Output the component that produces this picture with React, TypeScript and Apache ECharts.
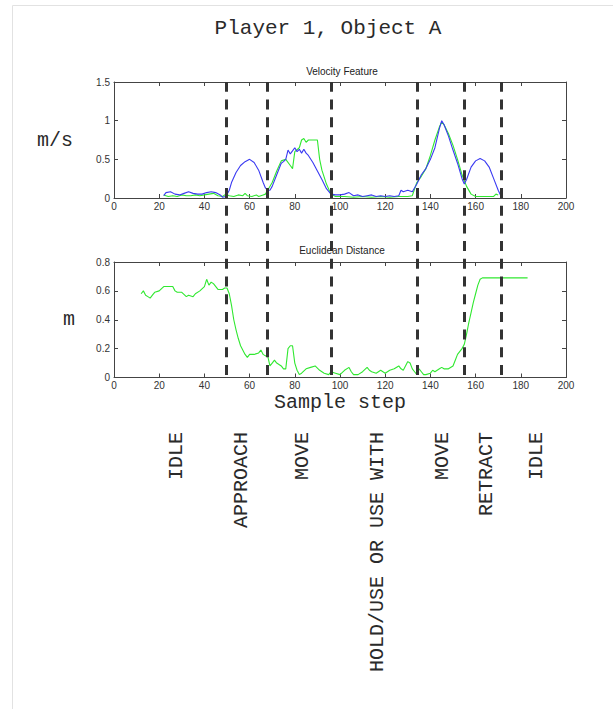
import React, { useEffect, useRef } from "react";
import * as echarts from "echarts";

// ---------- data ----------
const xTicksMax = 200;
const velocityBlue: [number, number][] = [
  [22, 0.03], [23, 0.07], [25, 0.08], [27, 0.05], [29, 0.04], [31, 0.06], [33, 0.08], [35, 0.06],
  [37, 0.05], [39, 0.05], [41, 0.07], [43, 0.08], [45, 0.07], [47, 0.04], [48, 0.01], [49.5, 0.02],
  [51, 0.1], [52, 0.2], [54, 0.33], [56, 0.42], [58, 0.47], [60, 0.5], [62, 0.46], [64, 0.36],
  [66, 0.2], [67, 0.13], [68, 0.1], [69, 0.1], [70, 0.15], [72, 0.3], [74, 0.45], [75, 0.47],
  [76, 0.5], [77, 0.62], [78, 0.57], [79, 0.61], [80, 0.65], [81, 0.6], [82, 0.63], [83, 0.58],
  [84, 0.63], [85, 0.58], [86, 0.55], [88, 0.46], [90, 0.35], [92, 0.24], [94, 0.12], [96, 0.05],
  [98, 0.04], [100, 0.04], [102, 0.05], [104, 0.07], [106, 0.03], [108, 0.04], [110, 0.02],
  [112, 0.03], [114, 0.04], [116, 0.02], [118, 0.03], [120, 0.02], [122, 0.03], [124, 0.02],
  [126, 0.03], [127, 0.1], [128, 0.08], [130, 0.1], [132, 0.08], [134, 0.18], [136, 0.3],
  [138, 0.38], [140, 0.5], [142, 0.65], [144, 0.9], [145, 1.0], [146, 0.95], [148, 0.8],
  [150, 0.62], [152, 0.45], [154, 0.25], [155, 0.18], [156, 0.24], [158, 0.4], [160, 0.48],
  [162, 0.51], [164, 0.48], [166, 0.4], [168, 0.25], [170, 0.1], [171, 0.04], [172, 0.02],
];
const velocityGreen: [number, number][] = [
  [22, 0.04], [24, 0.02], [26, 0.03], [28, 0.02], [30, 0.04], [32, 0.03], [34, 0.03], [36, 0.04],
  [38, 0.03], [40, 0.04], [42, 0.05], [44, 0.06], [46, 0.03], [48, 0.02], [49.5, 0.05], [51, 0.03],
  [53, 0.02], [55, 0.04], [57, 0.03], [58, 0.06], [59, 0.03], [61, 0.02], [63, 0.04], [64, 0.02],
  [66, 0.04], [67, 0.05], [68, 0.1], [70, 0.2], [72, 0.35], [74, 0.48], [76, 0.5], [78, 0.42],
  [79, 0.38], [80, 0.6], [82, 0.65], [83, 0.75], [84, 0.77], [85, 0.72], [86, 0.75], [88, 0.75],
  [90, 0.75], [91, 0.5], [92, 0.36], [94, 0.18], [96, 0.05], [98, 0.02], [102, 0.02], [106, 0.01],
  [110, 0.02], [114, 0.01], [118, 0.02], [122, 0.01], [126, 0.02], [130, 0.02], [132, 0.03],
  [134, 0.2], [136, 0.28], [138, 0.38], [140, 0.55], [142, 0.75], [144, 0.92], [145, 0.98],
  [146, 0.95], [148, 0.83], [150, 0.68], [152, 0.5], [154, 0.3], [156, 0.15], [158, 0.05],
  [160, 0.02], [164, 0.02], [168, 0.02], [169, 0.05], [170, 0.04],
];
const euclideanDistance: [number, number][] = [
  [12, 0.58], [13, 0.6], [14, 0.57], [15, 0.56], [16, 0.55], [17, 0.57], [18, 0.59], [20, 0.6],
  [22, 0.63], [24, 0.63], [26, 0.63], [27, 0.6], [28, 0.59], [30, 0.59], [32, 0.56], [33, 0.57],
  [35, 0.56], [36, 0.58], [38, 0.6], [40, 0.63], [41, 0.68], [42, 0.64], [43, 0.66], [44, 0.65],
  [46, 0.61], [48, 0.61], [49, 0.62], [50, 0.62], [51, 0.58], [52, 0.5], [53, 0.4], [54, 0.33],
  [55, 0.27], [56, 0.22], [58, 0.16], [59, 0.14], [60, 0.16], [62, 0.16], [64, 0.17], [65, 0.19],
  [66, 0.16], [67, 0.15], [68, 0.15], [69, 0.08], [70, 0.1], [71, 0.12], [72, 0.1], [74, 0.08],
  [75, 0.06], [76, 0.06], [77, 0.2], [78, 0.22], [79, 0.22], [80, 0.1], [81, 0.05], [82, 0.02],
  [83, 0.03], [85, 0.06], [87, 0.07], [89, 0.08], [91, 0.05], [93, 0.03], [95, 0.02], [96, 0.04],
  [98, 0.03], [100, 0.02], [102, 0.05], [104, 0.07], [105, 0.04], [106, 0.02], [108, 0.02],
  [110, 0.04], [112, 0.07], [113, 0.05], [114, 0.04], [116, 0.03], [118, 0.05], [120, 0.03],
  [122, 0.05], [124, 0.06], [126, 0.08], [127, 0.06], [128, 0.05], [130, 0.11], [131, 0.1],
  [132, 0.06], [133, 0.04], [134, 0.02], [135, 0.06], [136, 0.04], [137, 0.02], [138, 0.02],
  [140, 0.03], [141, 0.05], [142, 0.04], [144, 0.06], [145, 0.07], [146, 0.06], [148, 0.06],
  [150, 0.08], [151, 0.12], [152, 0.16], [154, 0.2], [155, 0.23], [156, 0.3], [157, 0.38],
  [158, 0.45], [159, 0.52], [160, 0.58], [161, 0.64], [162, 0.68], [163, 0.69], [170, 0.69],
  [183, 0.69],
];
const phaseBoundaries = [49.5, 68, 96, 134, 155, 171.5];
const phaseLabels = ["IDLE", "APPROACH", "MOVE", "HOLD/USE OR USE WITH", "MOVE", "RETRACT", "IDLE"];

// ---------- layout ----------
const phaseLabelX = [176, 241, 302.5, 377.5, 442.5, 486, 536];
const mono = "'Liberation Mono', 'Courier New', monospace";
const sans = "'Liberation Sans', Arial, sans-serif";
const axisColor = "#444";
const textColor = "#2a2a2a";

function boxAxes(gridIndex: number, min: number, max: number, interval: number, kind: "x" | "y", extra: any = {}) {
  const common = {
    gridIndex,
    type: "value",
    min,
    max,
    interval,
    splitLine: { show: false },
    axisLine: { show: true, onZero: false, lineStyle: { color: axisColor, width: 1 } },
    axisTick: { show: true, inside: true, length: 4, lineStyle: { color: axisColor } },
  };
  const main = {
    ...common,
    position: kind === "x" ? "bottom" : "left",
    axisLabel: { show: true, color: "#333", fontSize: 10, fontFamily: sans, margin: kind === "x" ? 3 : 4 },
    ...extra,
  };
  const opp = {
    ...common,
    position: kind === "x" ? "top" : "right",
    axisLabel: { show: false },
  };
  return [main, opp];
}

export default function App() {
  const ref = useRef<HTMLDivElement>(null);
  useEffect(() => {
    if (!ref.current) return;
    const chart = echarts.init(ref.current, null, { renderer: "svg" });
    const gLeft = 114;
    const gWidth = 452;
    const xAxes = [
      ...boxAxes(0, 0, xTicksMax, 20, "x"),
      ...boxAxes(1, 0, xTicksMax, 20, "x", {
        name: "Sample step",
        nameLocation: "middle",
        nameGap: 15,
        nameTextStyle: { fontFamily: mono, fontSize: 20, color: textColor, verticalAlign: "top" },
      }),
      { gridIndex: 2, type: "value", min: 0, max: xTicksMax, show: false },
    ];
    const yAxes = [
      ...boxAxes(0, 0, 1.5, 0.5, "y", {
        name: "m/s",
        nameLocation: "middle",
        nameRotate: 0,
        nameGap: 41,
        nameTextStyle: { fontFamily: mono, fontSize: 20, color: textColor, align: "right", verticalAlign: "middle" },
      }),
      ...boxAxes(1, 0, 0.8, 0.2, "y", {
        name: "m",
        nameLocation: "middle",
        nameRotate: 0,
        nameGap: 39,
        nameTextStyle: { fontFamily: mono, fontSize: 20, color: textColor, align: "right", verticalAlign: "middle" },
      }),
      { gridIndex: 2, type: "value", min: 0, max: 1, show: false },
    ];

    const graphics: any[] = [
      { type: "line", shape: { x1: 12.5, y1: 5.5, x2: 613, y2: 5.5 }, style: { stroke: "#e2e2e2", lineWidth: 1 }, silent: true },
      { type: "line", shape: { x1: 12.5, y1: 5.5, x2: 12.5, y2: 709 }, style: { stroke: "#e2e2e2", lineWidth: 1 }, silent: true },
    ];
    phaseLabels.forEach((label, i) => {
      graphics.push({
        type: "text",
        x: phaseLabelX[i],
        y: 432,
        rotation: Math.PI / 2,
        style: {
          text: label,
          font: `20px ${mono}`,
          fill: textColor,
          textAlign: "right",
          textVerticalAlign: "middle",
        },
        silent: true,
      });
    });

    chart.setOption({
      animation: false,
      backgroundColor: "#fff",
      title: [
        { text: "Player 1, Object A", left: 323, top: 13, textAlign: "center", textStyle: { fontFamily: mono, fontSize: 21, fontWeight: "normal", color: textColor } },
        { text: "Velocity Feature", left: 337, top: 61, textAlign: "center", textStyle: { fontFamily: sans, fontSize: 10, fontWeight: "normal", color: "#222" } },
        { text: "Euclidean Distance", left: 337, top: 240, textAlign: "center", textStyle: { fontFamily: sans, fontSize: 10, fontWeight: "normal", color: "#222" } },
      ],
      grid: [
        { left: gLeft, width: gWidth, top: 82, height: 116, containLabel: false },
        { left: gLeft, width: gWidth, top: 262, height: 115.5, containLabel: false },
        { left: gLeft, width: gWidth, top: 82, height: 293, containLabel: false },
      ],
      xAxis: xAxes,
      yAxis: yAxes,
      graphic: graphics,
      series: [
        {
          name: "Velocity (blue)",
          type: "line",
          xAxisIndex: 0,
          yAxisIndex: 0,
          data: velocityBlue,
          showSymbol: false,
          lineStyle: { color: "#3a3af2", width: 1.1 },
          itemStyle: { color: "#3a3af2" },
          z: 3,
        },
        {
          name: "Velocity (green)",
          type: "line",
          xAxisIndex: 0,
          yAxisIndex: 0,
          data: velocityGreen,
          showSymbol: false,
          lineStyle: { color: "#30e830", width: 1.1 },
          itemStyle: { color: "#30e830" },
          z: 2,
        },
        {
          name: "Euclidean distance",
          type: "line",
          xAxisIndex: 2,
          yAxisIndex: 2,
          data: euclideanDistance,
          showSymbol: false,
          lineStyle: { color: "#30e830", width: 1.1 },
          itemStyle: { color: "#30e830" },
          z: 2,
        },
        {
          name: "Phase boundaries",
          type: "line",
          xAxisIndex: 4,
          yAxisIndex: 4,
          data: [],
          showSymbol: false,
          markLine: {
            silent: true,
            symbol: "none",
            label: { show: false },
            lineStyle: { color: "#333", width: 3, type: [10, 7.7] },
            data: phaseBoundaries.map((v) => ({ xAxis: v })),
          },
          z: 5,
        },
      ],
    });
    return () => chart.dispose();
  }, []);
  return <div ref={ref} style={{ position: "absolute", left: 0, top: 0, width: 613, height: 709 }} />;
}
